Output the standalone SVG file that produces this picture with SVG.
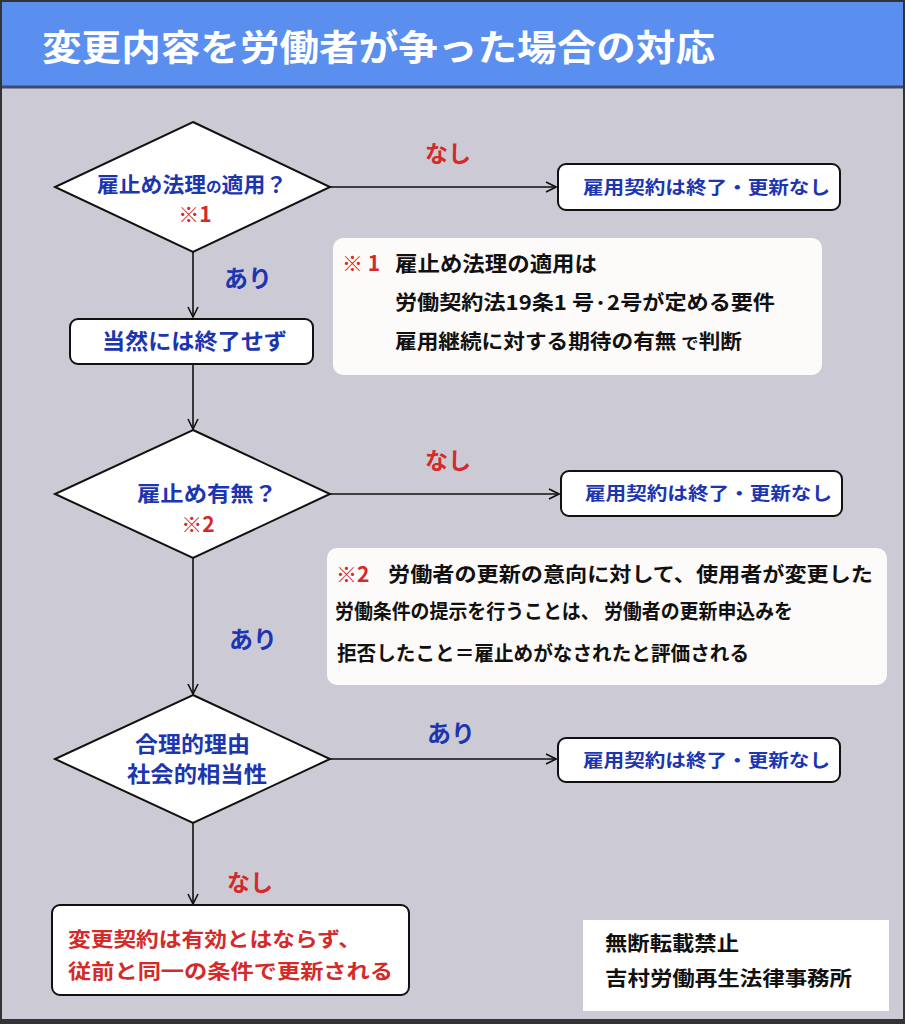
<svg xmlns="http://www.w3.org/2000/svg" width="905" height="1024" viewBox="0 0 905 1024">
<style>
text{font-family:"Noto Sans CJK JP","Noto Sans",sans-serif;font-weight:bold}
.dia{fill:#fff;stroke:#111;stroke-width:2}
.box{fill:#fff;stroke:#111;stroke-width:2}
.note{fill:#fdfafa}
.blue{fill:#1c35b0}
.red{fill:#d42a2a}
.blk{fill:#111}
.ln{stroke:#111;stroke-width:1.6;fill:none}
</style>
<defs>
<marker id="ah" viewBox="0 0 12 12" refX="11" refY="6" markerWidth="12" markerHeight="12" markerUnits="userSpaceOnUse" orient="auto">
<path d="M1,1 L11,6 L1,11" fill="none" stroke="#111" stroke-width="1.6"/>
</marker>
</defs>
<rect x="0" y="0" width="905" height="1024" fill="#cccbd5"/>
<g id="header">
<rect x="0" y="0" width="905" height="87" fill="#5a8ff0"/>
<line x1="0" y1="87" x2="905" y2="87" stroke="#3d4a70" stroke-width="3"/>
<text x="42" y="61" font-size="36" fill="#fff" textLength="673" lengthAdjust="spacingAndGlyphs">変更内容を労働者が争った場合の対応</text>
</g>
<rect x="1" y="1" width="903" height="1021" fill="none" stroke="#333" stroke-width="2"/>
<rect x="0" y="1019" width="905" height="5" fill="#333"/>

<g id="connectors">
<line class="ln" x1="330" y1="187" x2="556" y2="187" marker-end="url(#ah)"/>
<line class="ln" x1="193" y1="252" x2="193" y2="317" marker-end="url(#ah)"/>
<line class="ln" x1="193" y1="365" x2="193" y2="429" marker-end="url(#ah)"/>
<line class="ln" x1="330" y1="494" x2="559" y2="494" marker-end="url(#ah)"/>
<line class="ln" x1="193" y1="558" x2="193" y2="694" marker-end="url(#ah)"/>
<line class="ln" x1="330" y1="759" x2="556" y2="759" marker-end="url(#ah)"/>
<line class="ln" x1="193" y1="823" x2="193" y2="904" marker-end="url(#ah)"/>
<text x="425" y="162" font-size="23" class="red">なし</text>
<text x="224" y="287" font-size="24" class="blue">あり</text>
<text x="425" y="469" font-size="23" class="red">なし</text>
<text x="229" y="648" font-size="24" class="blue">あり</text>
<text x="427" y="742" font-size="24" class="blue">あり</text>
<text x="227" y="891" font-size="23" class="red">なし</text>
</g>

<g id="d1">
<polygon class="dia" points="193,122 330,187 193,252 55,187"/>
<text x="97" y="192" font-size="21" class="blue" textLength="190" lengthAdjust="spacingAndGlyphs">雇止め法理<tspan font-size="15">の</tspan>適用？</text>
<text x="195" y="222" font-size="21" class="red" text-anchor="middle">※1</text>
</g>
<g id="r1">
<rect class="box" x="558" y="164" width="282" height="46" rx="8"/>
<text x="583" y="194" font-size="18" class="blue" textLength="247" lengthAdjust="spacingAndGlyphs">雇用契約は終了・更新なし</text>
</g>
<g id="n1">
<rect class="note" x="333" y="238" width="489" height="137" rx="10"/>
<text x="342" y="271" font-size="21" class="red" textLength="38" lengthAdjust="spacingAndGlyphs">※ 1</text>
<text x="395" y="271" font-size="21" class="blk" textLength="202" lengthAdjust="spacingAndGlyphs">雇止め法理の適用は</text>
<text x="395" y="310" font-size="20" class="blk" textLength="380" lengthAdjust="spacingAndGlyphs">労働契約法19条1 号·2号が定める要件</text>
<text x="395" y="349" font-size="20" class="blk" textLength="347" lengthAdjust="spacingAndGlyphs">雇用継続に対する期待の有無 <tspan font-size="16">で</tspan>判断</text>
</g>
<g id="r2">
<rect class="box" x="70" y="319" width="243" height="45" rx="8"/>
<text x="102" y="349" font-size="22" class="blue" textLength="185" lengthAdjust="spacingAndGlyphs">当然には終了せず</text>
</g>
<g id="d2">
<polygon class="dia" points="193,430 330,494 193,558 55,494"/>
<text x="137" y="501" font-size="21" class="blue" textLength="140" lengthAdjust="spacingAndGlyphs">雇止め有無？</text>
<text x="198" y="532" font-size="21" class="red" text-anchor="middle">※2</text>
</g>
<g id="r3">
<rect class="box" x="561" y="471" width="281" height="45" rx="8"/>
<text x="585" y="500" font-size="18" class="blue" textLength="247" lengthAdjust="spacingAndGlyphs">雇用契約は終了・更新なし</text>
</g>
<g id="n2">
<rect class="note" x="327" y="548" width="560" height="137" rx="10"/>
<text x="336" y="582" font-size="21" class="red">※2</text>
<text x="388" y="582" font-size="20" class="blk" textLength="485" lengthAdjust="spacingAndGlyphs">労働者の更新の意向に対して、使用者が変更した</text>
<text x="335" y="619" font-size="20" class="blk" textLength="458" lengthAdjust="spacingAndGlyphs">労働条件の提示を行うことは、 労働者の更新申込みを</text>
<text x="337" y="661" font-size="20" class="blk" textLength="412" lengthAdjust="spacingAndGlyphs">拒否したこと＝雇止めがなされたと評価される</text>
</g>
<g id="d3">
<polygon class="dia" points="193,695 330,759 193,823 55,759"/>
<text x="135" y="752" font-size="22" class="blue" textLength="115" lengthAdjust="spacingAndGlyphs">合理的理由</text>
<text x="127" y="782" font-size="22" class="blue" textLength="140" lengthAdjust="spacingAndGlyphs">社会的相当性</text>
</g>
<g id="r4">
<rect class="box" x="558" y="738" width="282" height="44" rx="8"/>
<text x="583" y="767" font-size="18" class="blue" textLength="247" lengthAdjust="spacingAndGlyphs">雇用契約は終了・更新なし</text>
</g>
<g id="r5">
<rect class="box" x="52" y="905" width="357" height="90" rx="8"/>
<text x="68" y="947" font-size="20" class="red" textLength="293" lengthAdjust="spacingAndGlyphs">変更契約は有効とはならず、</text>
<text x="68" y="979" font-size="20" class="red" textLength="325" lengthAdjust="spacingAndGlyphs">従前と同一の条件で更新される</text>
</g>
<g id="credit">
<rect x="583" y="920" width="306" height="91" fill="#fff"/>
<text x="605" y="951" font-size="20" class="blk" textLength="134" lengthAdjust="spacingAndGlyphs">無断転載禁止</text>
<text x="605" y="986" font-size="20" class="blk" textLength="247" lengthAdjust="spacingAndGlyphs">吉村労働再生法律事務所</text>
</g>
</svg>
